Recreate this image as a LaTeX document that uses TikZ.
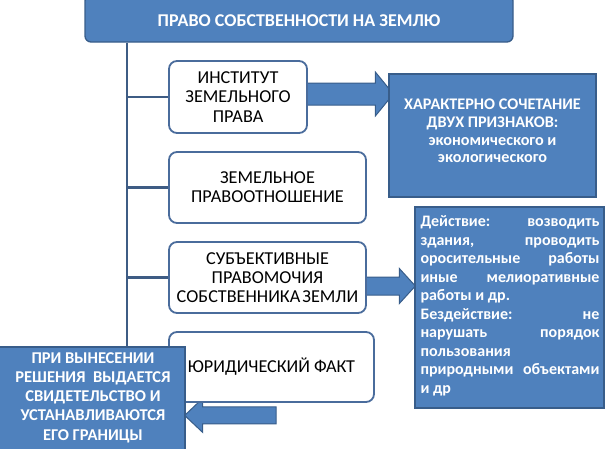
\documentclass[tikz,border=0pt]{standalone}
\usepackage{fontspec}
\setmainfont{Carlito}
\usetikzlibrary{calc}
\definecolor{bfill}{RGB}{79,129,189}
\definecolor{bdraw}{RGB}{56,93,138}
\definecolor{lbord}{RGB}{74,108,156}
\definecolor{vline}{RGB}{62,92,132}
\pgfdeclarelayer{background}
\pgfsetlayers{background,main}
\newcommand{\jline}[1]{\hbox to 179pt{#1}}
\begin{document}
\begin{tikzpicture}[x=1pt,y=-1pt,
  wbox/.style={draw=lbord, line width=1.8pt, rounded corners=8pt, fill=white, inner sep=0pt,
    align=center, text=black, font=\fontsize{18.2}{19.3}\selectfont},
  bbox/.style={draw=bdraw, line width=1.3pt, fill=bfill, inner sep=0pt},
  barrow/.style={draw=bdraw, line width=1pt, fill=bfill, line join=miter},
  conn/.style={draw=vline, line width=2.2pt},
  wtext/.style={text=white, align=center, inner sep=0pt}]
\useasboundingbox (0,0) rectangle (606,448);
% white boxes
\node[wbox, minimum width=138pt, minimum height=72pt] (b1) at (238,97) {ИНСТИТУТ\\ЗЕМЕЛЬНОГО\\ПРАВА};
\node[wbox, minimum width=197pt, minimum height=71pt] (b2) at (267.5,187.5) {ЗЕМЕЛЬНОЕ\\ПРАВООТНОШЕНИЕ};
\node[wbox, minimum width=197pt, minimum height=71pt] (b3) at (267.5,277.5) {СУБЪЕКТИВНЫЕ\\ПРАВОМОЧИЯ\\СОБСТВЕННИКА\hspace{2pt}ЗЕМЛИ};
\node[wbox, minimum width=205pt, minimum height=70pt] (b4) at (271.5,367) {ЮРИДИЧЕСКИЙ ФАКТ};
% blue boxes
\node[bbox, rounded corners=6pt, minimum width=428pt, minimum height=47pt] (top) at (299,18.5) {};
\node[wtext, font=\bfseries\fontsize{18}{20}\selectfont] (ttl) at (299,21) {ПРАВО СОБСТВЕННОСТИ НА ЗЕМЛЮ};
\node[bbox, minimum width=207pt, minimum height=123pt] (rb1) at (492.5,135.5) {};
\node[wtext, font=\bfseries\fontsize{16.2}{17.8}\selectfont] (rb1t) at (492.5,131)
  {ХАРАКТЕРНО СОЧЕТАНИЕ\\ДВУХ ПРИЗНАКОВ:\\экономического и\\экологического};
\node[bbox, minimum width=189pt, minimum height=201pt] (rb2) at (509.5,307.5) {};
\node[text=white, align=left, inner sep=0pt, font=\bfseries\fontsize{16}{18.5}\selectfont] (rb2t) at (510,306)
  {\jline{Действие:\hfill возводить}\\
   \jline{здания,\hfill проводить}\\
   \jline{оросительные\hfill работы}\\
   \jline{иные\hfill мелиоративные}\\
   работы и др.\\
   \jline{Бездействие:\hfill не}\\
   \jline{нарушать\hfill порядок}\\
   пользования\\
   \jline{природными\hfill объектами}\\
   и др};
\node[bbox, minimum width=190pt, minimum height=106pt] (bl) at (90,400) {};
\node[wtext, font=\bfseries\fontsize{16.5}{19.3}\selectfont] (blt) at (93,397.5)
  {ПРИ ВЫНЕСЕНИИ\\РЕШЕНИЯ\ \ ВЫДАЕТСЯ\\СВИДЕТЕЛЬСТВО И\\УСТАНАВЛИВАЮТСЯ\\ЕГО ГРАНИЦЫ};
% connectors and block arrows
\coordinate (spine) at (127,0);
\begin{pgfonlayer}{background}
\draw[conn] (top.south -| spine) -- (bl.north -| spine);
\foreach \b in {b1,b2,b3} \draw[conn] (\b.west -| spine) -- (\b.west);
% arrow 1
\path (b1.east) ++(0,-3) coordinate (a1s);
\coordinate (a1t) at (rb1.west |- a1s);
\draw[barrow] ($(a1s)+(-2,-11)$) -- ($(a1t)+(-13,-11)$) -- ($(a1t)+(-13,-22)$) -- ($(a1t)+(5,0)$)
  -- ($(a1t)+(-13,22)$) -- ($(a1t)+(-13,11)$) -- ($(a1s)+(-2,11)$) -- cycle;
% arrow 2
\path (b3.east) ++(0,8.5) coordinate (a2s);
\coordinate (a2t) at (rb2.west |- a2s);
\draw[barrow] ($(a2s)+(-2,-9)$) -- ($(a2t)+(-15,-9)$) -- ($(a2t)+(-15,-17.5)$) -- ($(a2t)+(1,0)$)
  -- ($(a2t)+(-15,17.5)$) -- ($(a2t)+(-15,9)$) -- ($(a2s)+(-2,9)$) -- cycle;
% arrow 3
\path (b4.south) ++(4.5,12.5) coordinate (a3s);
\coordinate (a3t) at (bl.east |- a3s);
\draw[barrow] ($(a3s)+(0,-8.5)$) -- ($(a3t)+(17,-8.5)$) -- ($(a3t)+(17,-17)$) -- ($(a3t)+(-1,0)$)
  -- ($(a3t)+(17,17)$) -- ($(a3t)+(17,8.5)$) -- ($(a3s)+(0,8.5)$) -- cycle;
\end{pgfonlayer}
\end{tikzpicture}
\end{document}
